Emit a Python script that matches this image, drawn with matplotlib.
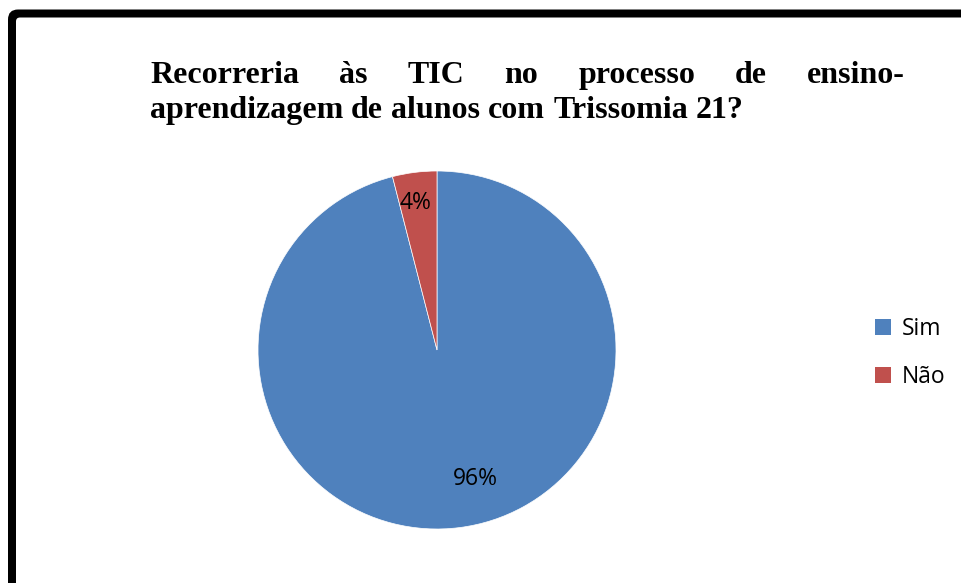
import matplotlib.pyplot as plt
from matplotlib.patches import FancyBboxPatch, Patch
import numpy as np

# data
labels = ["Sim", "Não"]
values = [96, 4]
colors = ["#4F81BD", "#C0504D"]
title_lines = [
    "Recorreria às TIC no processo de ensino-",
    "aprendizagem de alunos com Trissomia 21?",
]

W, H = 962, 583
fig = plt.figure(figsize=(W / 100, H / 100), dpi=100)
fig.patch.set_facecolor("white")

# background axes in pixel units: frame = black filled box minus white filled box
bg = fig.add_axes([0, 0, 1, 1], zorder=-1)
bg.set_xlim(0, W)
bg.set_ylim(H, 0)
bg.axis("off")
bg.add_patch(FancyBboxPatch((8, 9.5), W + 100, H + 100,
                            boxstyle="round,pad=0,rounding_size=10",
                            facecolor="black", edgecolor="none", linewidth=0))
bg.add_patch(FancyBboxPatch((16, 17.5), W + 100, H + 100,
                            boxstyle="round,pad=0,rounding_size=4",
                            facecolor="white", edgecolor="none", linewidth=0))

# pie axes: centre (437, 350), radius 179 px
cx, cy, r = 437, 350, 179
ax = fig.add_axes([(cx - r) / W, (H - cy - r) / H, 2 * r / W, 2 * r / H])
wedges, texts, autotexts = ax.pie(values, colors=colors, startangle=90,
                                  counterclock=False, radius=1,
                                  autopct="%d%%",
                                  wedgeprops=dict(edgecolor="white", linewidth=0.5),
                                  textprops=dict(fontsize=16.5, family="Open Sans", color="black"))
ax.set_xlim(-1, 1)
ax.set_ylim(-1, 1)
ax.set_aspect("equal")
ax.axis("off")

# excel-like label placement
for w, t, dist, shift in zip(wedges, autotexts, [0.755, 0.83], [9.5, 1]):
    ang = np.deg2rad((w.theta1 + w.theta2) / 2 + shift)
    t.set_position((dist * np.cos(ang), dist * np.sin(ang)))
    t.set_ha("center")
    t.set_va("center")

# legend
handles = [Patch(facecolor=c, edgecolor="none") for c in colors]
fig.legend(handles, labels, loc="center left", bbox_to_anchor=(854 / W, 1 - 353 / H),
           frameon=False, prop=dict(family="Open Sans", size=16.5),
           handlelength=0.7, handleheight=0.7, handletextpad=0.5, labelspacing=1.05)

# justified bold serif title
fs = 23
left, right = 150, 905
baselines = [83, 118]
fig.canvas.draw()
renderer = fig.canvas.get_renderer()


def text_width(s):
    tx = fig.text(0, 0, s, fontsize=fs, family="Liberation Serif", fontweight="bold")
    w = tx.get_window_extent(renderer).width
    tx.remove()
    return w


for i, line in enumerate(title_lines):
    words = line.split()
    y = 1 - baselines[i] / H
    objs = [fig.text(0, y, wd, fontsize=fs, family="Liberation Serif",
                     fontweight="bold", va="baseline", ha="left") for wd in words]
    widths = [o.get_window_extent(renderer).width for o in objs]
    if i == 0:
        gap = (right - left - sum(widths)) / (len(words) - 1)
    else:
        gap = text_width("a b") - text_width("ab")
    x = left
    for o, wdt in zip(objs, widths):
        o.set_x(x / W)
        x += wdt + gap

fig.savefig("out.png", dpi=100)
